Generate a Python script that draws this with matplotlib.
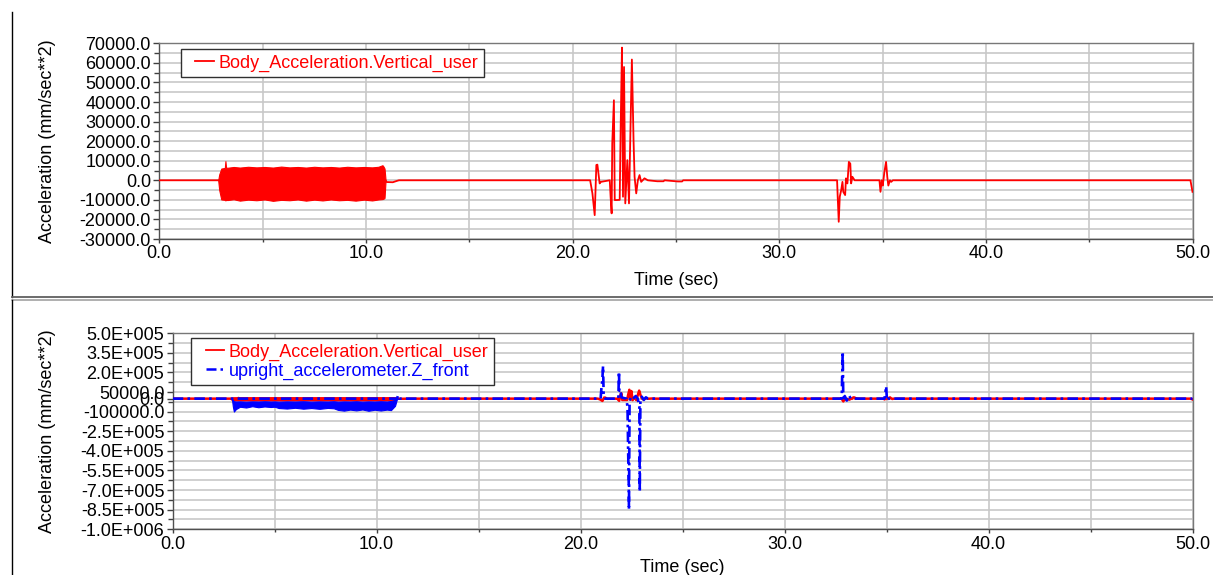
import matplotlib
matplotlib.use("Agg")
import matplotlib.pyplot as plt
from matplotlib.lines import Line2D
from matplotlib.legend_handler import HandlerLine2D

plt.rcParams['font.family'] = ['Liberation Sans', 'DejaVu Sans']

# ---------------------------------------------------------------------------
# Body_Acceleration.Vertical_user (mm/sec**2) -- transient samples
body_t = [0.0, 2.85, 10.95, 11.0, 11.3, 11.5, 11.6,
          20.85, 20.96, 21.07, 21.15, 21.2, 21.31, 21.37, 21.8,
          21.84, 21.89, 21.92, 22.0, 22.04, 22.12, 22.28, 22.33, 22.39,
          22.44, 22.49, 22.55, 22.65, 22.73, 22.81, 22.87, 22.95, 23.0,
          23.08, 23.16, 23.24, 23.32, 23.48, 23.64, 24.1, 24.4, 24.45,
          25.1, 25.3, 25.35,
          32.8, 32.83, 32.88, 32.93, 33.0, 33.06, 33.1, 33.19, 33.23,
          33.3, 33.37, 33.44, 33.48, 33.54, 33.65,
          34.85, 34.9, 34.96, 35.01, 35.09, 35.17, 35.23, 35.28, 35.36,
          35.42, 35.5, 49.9, 50.0]
body_v = [0, 0, 0, -900, -1000, -300, 0,
          0, -6700, -17800, 7800, 8000, -1600, -800, 0,
          -8400, -16900, 18800, 40900, -10100, -10100, -10000, 29000, 67800,
          -8400, 57900, -11800, 10300, -11800, 30700, 61700, 20500, 1800,
          -6700, 0, 2650, -800, 1000, 0, -500, -500, 0,
          -600, -600, 0,
          0, -8400, -21200, -8400, -5000, -800, -5900, -7550, 1000,
          -1600, 9400, 8500, -1600, 1800, 0,
          0, -5900, 0, -2700, 4300, 9400, 1700, -2700, 0,
          -800, 0, 0, -5900]

# envelope of the dense vibration block (2.85 s .. 10.95 s)
body_blk_t = [2.85, 2.9, 3.0, 3.17, 3.2, 3.23, 3.3, 3.6, 3.9, 4.3, 4.7,
              5.1, 5.5, 5.9, 6.3, 6.7, 7.1, 7.5, 7.9, 8.3, 8.7, 9.1, 9.5,
              9.9, 10.3, 10.6, 10.8, 10.85, 10.9, 10.95]
body_blk_hi = [0, 3000, 6000, 6300, 9800, 6500, 6400, 6800, 6500, 6900,
               6600, 6800, 6500, 7000, 6600, 6800, 6500, 6900, 6600, 6800,
               6500, 6900, 6600, 6800, 6600, 6900, 7700, 7000, 6000, 0]
body_blk_lo = [0, -5000, -9800, -10000, -10300, -10000, -10100, -9700,
               -10400, -9900, -10200, -9800, -10500, -10000, -10200, -9800,
               -10400, -9900, -10300, -9800, -10200, -10000, -10400, -9900,
               -10300, -9800, -9600, -9400, -9000, 0]

# upright_accelerometer.Z_front (mm/sec**2) -- transient samples
up_t = [0.0, 2.9, 11.0, 11.05, 11.1,
        20.9, 20.98, 21.03, 21.06, 21.1, 21.13, 21.2,
        21.85, 21.88, 21.9, 21.95, 22.0, 22.1, 22.25,
        22.3, 22.33, 22.36, 22.37, 22.4, 22.45, 22.55, 22.7, 22.8,
        22.88, 22.9, 22.93, 23.0, 23.1, 23.2, 23.3,
        32.8, 32.85, 32.88, 32.95, 33.05, 33.15, 33.25,
        34.9, 34.98, 35.02, 35.1, 50.0]
up_v = [0, 0, 0, 25000, 0,
        0, 0, 100000, 130000, 250000, 20000, 0,
        0, 207000, 60000, 70000, 10000, 5000, 0,
        -70000, -400000, -650000, -852000, -20000, 10000, -5000, 20000, 0,
        -60000, -712000, -20000, 15000, -10000, 10000, 0,
        0, 360000, -20000, 20000, -15000, 25000, 0,
        0, 95000, -15000, 0, 0]

# envelope of the dense vibration block (2.9 s .. 11.0 s)
up_blk_t = [2.9, 2.95, 3.0, 3.1, 3.3, 3.6, 3.9, 4.2, 4.5, 4.8, 5.0, 5.2,
            5.6, 6.0, 6.4, 6.8, 7.2, 7.6, 7.9, 8.1, 8.4, 8.7, 9.0, 9.3,
            9.6, 9.9, 10.2, 10.5, 10.7, 10.9, 11.0]
up_blk_hi = [0, -12000, -20000, -22000, -21000, -23000, -21000, -22000,
             -20000, -22000, -21000, -23000, -21000, -22000, -20000,
             -23000, -21000, -22000, -20000, -23000, -21000, -22000,
             -20000, -23000, -21000, -22000, -20000, -22000, -18000,
             -10000, 0]
up_blk_lo = [0, -60000, -99000, -80000, -62000, -68000, -58000, -66000,
             -60000, -64000, -62000, -72000, -76000, -70000, -77000,
             -72000, -78000, -71000, -74000, -86000, -92000, -84000,
             -90000, -83000, -93000, -85000, -91000, -84000, -88000,
             -55000, 0]

# axis ticks
x_ticks = [0, 10, 20, 30, 40, 50]
x_tick_labels = ['0.0', '10.0', '20.0', '30.0', '40.0', '50.0']
top_y_ticks = [70000, 60000, 50000, 40000, 30000, 20000, 10000, 0,
               -10000, -20000, -30000]
top_y_labels = ['70000.0', '60000.0', '50000.0', '40000.0', '30000.0',
                '20000.0', '10000.0', '0.0', '-10000.0', '-20000.0',
                '-30000.0']
bot_y_ticks = [500000, 350000, 200000, 50000, 0, -100000, -250000, -400000,
               -550000, -700000, -850000, -1000000]
bot_y_labels = ['5.0E+005', '3.5E+005', '2.0E+005', '50000.0', '0.0',
                '-100000.0', '-2.5E+005', '-4.0E+005', '-5.5E+005',
                '-7.0E+005', '-8.5E+005', '-1.0E+006']

series_names = ['Body_Acceleration.Vertical_user',
                'upright_accelerometer.Z_front']

# ---------------------------------------------------------------------------
W, H = 1213, 575
fig = plt.figure(figsize=(W / 100, H / 100), dpi=100)
fig.patch.set_facecolor('white')

FS = 13
RED = '#ff0000'
BLUE = '#0000ff'
GRID = '#c8c8c8'
BLUE_LS = (0, (4, 1.6, 1, 1.6))


def px_axes(left, right, top, bottom):
    return fig.add_axes([left / W, 1 - bottom / H, (right - left) / W,
                         (bottom - top) / H])


def style_axes(ax, yticks, ylabels, yminor, ylim, ylab_x, xlab_y):
    ax.set_xlim(0, 50)
    ax.set_ylim(*ylim)
    ax.set_xticks(x_ticks)
    ax.set_xticklabels(x_tick_labels, fontsize=FS)
    ax.set_xticks([5, 15, 25, 35, 45], minor=True)
    ax.set_yticks(yticks)
    ax.set_yticklabels(ylabels, fontsize=FS)
    ax.set_yticks(yminor, minor=True)
    ax.grid(True, which='both', color=GRID, lw=1.2)
    ax.set_axisbelow(True)
    ax.tick_params(axis='y', which='major', direction='out', length=4.5,
                   width=1, color='#404040', pad=1.5)
    ax.tick_params(axis='y', which='minor', direction='out', length=3.5,
                   width=1, color='#404040')
    ax.tick_params(axis='x', which='major', direction='out', length=3,
                   width=1, color='#404040', pad=1.5)
    ax.tick_params(axis='x', which='minor', direction='out', length=2,
                   width=1, color='#404040')
    for side in ('left', 'bottom'):
        ax.spines[side].set_color('#505050')
        ax.spines[side].set_linewidth(1.0)
    for side in ('top', 'right'):
        ax.spines[side].set_color('#787878')
        ax.spines[side].set_linewidth(1.0)
    ax.set_xlabel('Time (sec)', fontsize=FS)
    ax.xaxis.label.set_verticalalignment('baseline')
    ax.xaxis.set_label_coords(0.5, xlab_y)
    ax.set_ylabel('Acceleration (mm/sec**2)', fontsize=FS)
    ax.yaxis.label.set_verticalalignment('center')
    ax.yaxis.set_label_coords(ylab_x, 0.5)


def legend(ax, handles, anchor):
    lg = ax.legend(handles, series_names[:len(handles)], loc='upper left',
                   bbox_to_anchor=anchor, borderaxespad=0, fontsize=FS,
                   frameon=True, fancybox=False, framealpha=1,
                   edgecolor='#303030', handlelength=1.55,
                   handletextpad=0.25, borderpad=0.3, labelspacing=0.12,
                   labelcolor='linecolor',
                   handler_map={Line2D: HandlerLine2D(xpad=0.5)})
    lg.get_frame().set_linewidth(1.0)
    return lg


# --- upper chart -----------------------------------------------------------
ax1 = px_axes(159.3, 1192.5, 43.3, 239.0)
ax1.fill_between(body_blk_t, body_blk_lo, body_blk_hi, color=RED, lw=0.8,
                 zorder=3)
ax1.plot(body_t, body_v, color=RED, lw=1.3, zorder=4)
top_minor = [t + 5000 for t in top_y_ticks[1:]]
style_axes(ax1, top_y_ticks, top_y_labels, top_minor, (-30000, 70000),
           -0.1085, -0.2325)
legend(ax1, [Line2D([], [], color=RED, lw=1.3)], (0.021, 0.971))

# --- lower chart -----------------------------------------------------------
ax2 = px_axes(172.7, 1192.5, 333.3, 529.3)
ax2.fill_between(body_blk_t, body_blk_lo, body_blk_hi, color=RED, lw=1.6,
                 zorder=3)
ax2.plot(body_t, body_v, color=RED, lw=1.8, zorder=3)
ax2.fill_between(up_blk_t, up_blk_lo, up_blk_hi, color=BLUE, lw=0.8,
                 zorder=4)
ax2.plot(up_t, up_v, color=BLUE, lw=1.9, ls=BLUE_LS, zorder=4)
bot_major = [500000 - 150000 * i for i in range(11)]
bot_minor = [v - 75000 for v in bot_major[:-1]]
style_axes(ax2, bot_y_ticks, bot_y_labels, bot_minor, (-1000000, 500000),
           -0.1231, -0.2204)
legend(ax2, [Line2D([], [], color=RED, lw=1.3),
             Line2D([], [], color=BLUE, lw=1.8, ls=BLUE_LS)],
       (0.018, 0.976))

# --- panel frames ----------------------------------------------------------
def fig_line(xs, ys, color, lw):
    fig.add_artist(Line2D([x / W for x in xs], [1 - y / H for y in ys],
                          transform=fig.transFigure, color=color, lw=lw))


fig_line([11.5, 11.5], [12, 297], 'black', 1.0)
fig_line([11.5, W], [297, 297], '#606060', 1.3)
fig_line([11.5, W], [300, 300], '#9a9a9a', 1.1)
fig_line([11.5, 11.5], [300, H], 'black', 1.0)

fig.savefig('out.png', dpi=100, facecolor='white')
